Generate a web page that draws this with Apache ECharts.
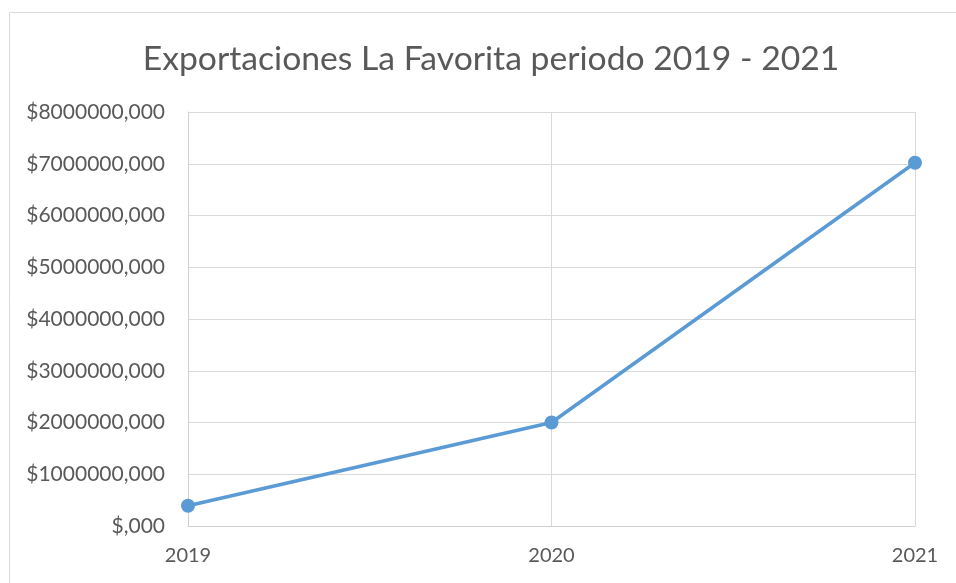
<!DOCTYPE html>
<html>
<head>
<meta charset="utf-8">
<script src="https://cdn.jsdelivr.net/npm/echarts@6/dist/echarts.min.js"></script>
<style>
  html, body { margin: 0; padding: 0; background: #fff; }
  #chart { width: 956px; height: 583px; }
</style>
</head>
<body>
<div id="chart"></div>
<script>
var years = ['2019', '2020', '2021']
var exportaciones = [390000, 2000000, 7020000]
var yMax = 8000000
var yStep = 1000000

var mychart = echarts.init(document.getElementById('chart'))
var textColor = '#595959'
var fontFam = 'Lato, "Open Sans", sans-serif'

mychart.setOption({
  backgroundColor: '#fff',
  animation: false,
  graphic: [{
    type: 'rect',
    shape: { x: 9.5, y: 12.5, width: 960, height: 600 },
    style: { fill: 'none', stroke: '#d9d9d9', lineWidth: 1 },
    silent: true
  }],
  title: {
    text: 'Exportaciones La Favorita periodo 2019 - 2021',
    left: 486,
    textAlign: 'center',
    top: 37,
    textStyle: { color: textColor, fontSize: 33.7, fontWeight: 'normal', fontFamily: fontFam }
  },
  grid: { left: 188, right: 41, top: 112, bottom: 57 },
  xAxis: {
    type: 'category',
    data: years,
    boundaryGap: false,
    axisLine: { lineStyle: { color: '#d0d0d0', width: 1 } },
    axisTick: { show: false },
    axisLabel: { color: textColor, fontSize: 20, fontFamily: fontFam, margin: 20 },
    splitLine: { show: true, lineStyle: { color: '#d9d9d9', width: 1 } }
  },
  yAxis: {
    type: 'value',
    min: 0,
    max: yMax,
    interval: yStep,
    axisLine: { show: true, lineStyle: { color: '#d0d0d0', width: 1 } },
    axisTick: { show: false },
    axisLabel: {
      color: textColor, fontSize: 21, fontFamily: fontFam, margin: 23,
      formatter: function (v) { return '$' + (v === 0 ? '' : v) + ',000' }
    },
    splitLine: { lineStyle: { color: '#d9d9d9', width: 1 } }
  },
  series: [{
    type: 'line',
    data: exportaciones,
    symbol: 'circle',
    symbolSize: 14,
    lineStyle: { color: '#5b9bd5', width: 3.5 },
    itemStyle: { color: '#5b9bd5' }
  }]
})
</script>
</body>
</html>
